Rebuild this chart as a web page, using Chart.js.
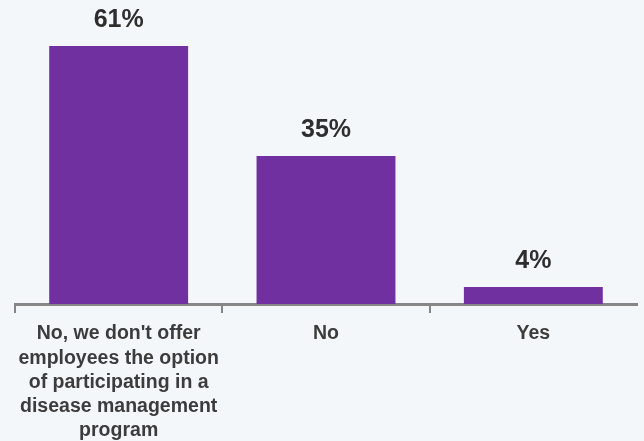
<!DOCTYPE html>
<html>
<head>
<meta charset="utf-8">
<title>Disease management program</title>
<script src="https://cdn.jsdelivr.net/npm/chart.js@4/dist/chart.umd.min.js"></script>
<style>
  html, body { margin: 0; padding: 0; background: #f3f7fa; }
  #chart-box { width: 644px; height: 441px; }
</style>
</head>
<body>
<div id="chart-box"><canvas id="answers" width="644" height="441"></canvas></div>
<script>
'use strict';
var categories = [
  ['No, we don\'t offer', 'employees the option', 'of participating in a', 'disease management', 'program'],
  'No',
  'Yes'
];
var percents = [61, 35, 4];
var yMax = 70;

var barColor = '#7030a0';
var textColor = '#3c3c3c';
var axisColor = '#868686';

// writes the percentage above every bar
var valueLabels = {
  id: 'valueLabels',
  afterDatasetsDraw: function(chart) {
    var ctx = chart.ctx;
    var meta = chart.getDatasetMeta(0);
    ctx.save();
    ctx.font = 'bold 25px "Liberation Sans", Arial, sans-serif';
    ctx.fillStyle = '#2e2e2e';
    ctx.textAlign = 'center';
    ctx.textBaseline = 'middle';
    for (var i = 0; i < meta.data.length; i++) {
      var bar = meta.data[i];
      ctx.fillText(percents[i] + '%', bar.x, bar.y - 26);
    }
    ctx.restore();
  }
};

var ctx = document.getElementById('answers').getContext('2d');
var chart = new Chart(ctx, {
  type: 'bar',
  data: {
    labels: categories,
    datasets: [
      {
        data: percents,
        backgroundColor: barColor,
        borderWidth: 0,
        barPercentage: 0.67,
        categoryPercentage: 1
      }
    ]
  },
  options: {
    responsive: false,
    animation: false,
    layout: { padding: { left: 15, right: 7, top: 8, bottom: 0 } },
    plugins: {
      legend: { display: false },
      tooltip: { enabled: false }
    },
    scales: {
      x: {
        offset: true,
        afterFit: function(scale) { scale.height = 137; },
        border: { color: axisColor, width: 3 },
        grid: {
          offset: true,
          drawOnChartArea: false,
          // no tick mark at the far right end of the axis
          color: function(c) { return c.type === 'tick' ? axisColor : 'rgba(0,0,0,0)'; },
          lineWidth: 2,
          tickLength: 9
        },
        ticks: {
          color: textColor,
          padding: 9,
          maxRotation: 0,
          autoSkip: false,
          font: { family: '"Liberation Sans", Arial, sans-serif', size: 19.5, weight: 'bold', lineHeight: 1.24 }
        }
      },
      y: {
        display: false,
        min: 0,
        max: yMax
      }
    }
  },
  plugins: [valueLabels]
});
</script>
</body>
</html>
